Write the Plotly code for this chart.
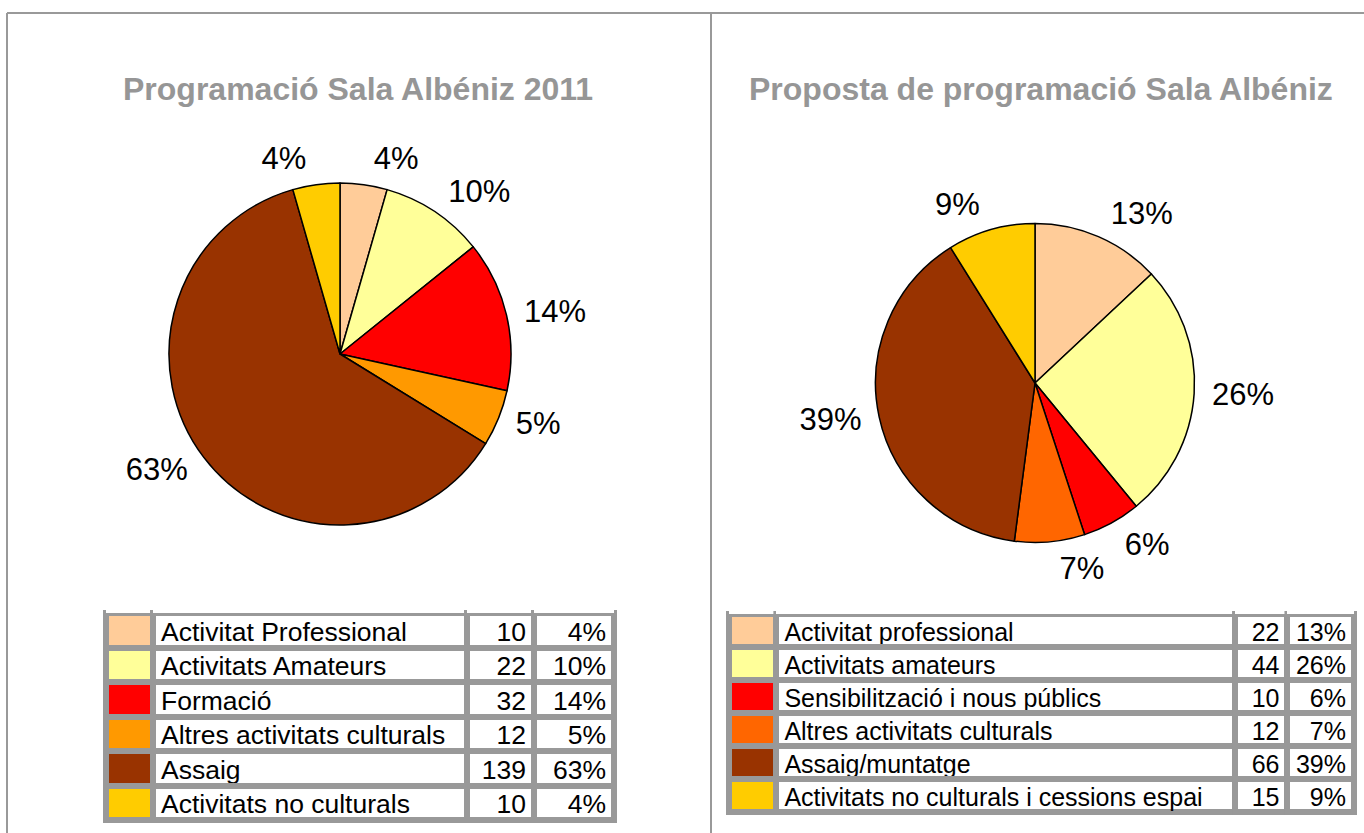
import plotly.graph_objects as go

W, H = 1364, 833

# ---------------- data ----------------
titles = ["Programació Sala Albéniz 2011", "Proposta de programació Sala Albéniz"]

cats_2011 = ["Activitat Professional", "Activitats Amateurs", "Formació",
             "Altres activitats culturals", "Assaig", "Activitats no culturals"]
vals_2011 = [10, 22, 32, 12, 139, 10]
pcts_2011 = ["4%", "10%", "14%", "5%", "63%", "4%"]
cols_2011 = ["#FFCC99", "#FFFF99", "#FF0000", "#FF9900", "#993300", "#FFCC00"]

cats_prop = ["Activitat professional", "Activitats amateurs", "Sensibilització i nous públics",
             "Altres activitats culturals", "Assaig/muntatge", "Activitats no culturals i cessions espai"]
vals_prop = [22, 44, 10, 12, 66, 15]
pcts_prop = ["13%", "26%", "6%", "7%", "39%", "9%"]
cols_prop = ["#FFCC99", "#FFFF99", "#FF0000", "#FF6600", "#993300", "#FFCC00"]

FONT = "Liberation Sans, Arial, sans-serif"
GREY = "#999999"


def px_x(x):
    return x / W


def px_y(y):
    return 1 - y / H


def dom_c(cx, cy, r):
    return dict(x=[px_x(cx - r), px_x(cx + r)], y=[px_y(cy + r), px_y(cy - r)])


def dom(x0, x1, y0, y1):
    return dict(x=[px_x(x0), px_x(x1)], y=[px_y(y1), px_y(y0)])


fig = go.Figure()


def add_pie(cats, vals, pcts, cols, cx, cy, r, label_groups, label_gap):
    # visible pie, no text
    fig.add_trace(go.Pie(
        labels=cats, values=vals, textinfo="none", sort=False,
        direction="clockwise", rotation=0,
        marker=dict(colors=cols, line=dict(color="black", width=1.5)),
        domain=dom_c(cx, cy, r), showlegend=False, hoverinfo="label+value",
    ))
    # transparent, slightly larger pies carrying the percentage labels
    for group in label_groups:
        fig.add_trace(go.Pie(
            labels=cats, values=vals, text=pcts, textinfo="text", sort=False,
            direction="clockwise", rotation=0,
            textposition=["outside" if i in group else "none" for i in range(len(cats))],
            marker=dict(colors=["rgba(0,0,0,0)"] * len(cats), line=dict(width=0)),
            textfont=dict(family=FONT, size=31, color="black"),
            domain=dom_c(cx, cy, r + label_gap), showlegend=False, hoverinfo="skip",
        ))


add_pie(cats_2011, vals_2011, pcts_2011, cols_2011, 340, 354, 171,
        [[0, 2, 4], [1, 3, 5]], 9)
add_pie(cats_prop, vals_prop, pcts_prop, cols_prop, 1035, 383, 159.5,
        [[0, 2, 4], [1, 3, 5]], 9)


# ---------------- tables ----------------
def add_table(cats, vals, pcts, cols, x0, x1, y0, y1, widths, rowh, fsize):
    n = len(cats)
    fig.add_trace(go.Table(
        domain=dom(x0, x1, y0, y1),
        columnwidth=widths,
        header=dict(values=[], height=0, line=dict(width=0, color="white"),
                    fill=dict(color="white")),
        cells=dict(
            values=[[""] * n, cats, [str(v) for v in vals], pcts],
            fill=dict(color=[cols, ["white"] * n, ["white"] * n, ["white"] * n]),
            line=dict(color=GREY, width=6),
            align=["left", "left", "right", "right"],
            font=dict(family=FONT, size=fsize, color="black"),
            height=rowh,
        ),
    ))


add_table(cats_2011, vals_2011, pcts_2011, cols_2011, 106, 614, 597, 833,
          [47, 314, 67, 80], 34.5, 26.5)
add_table(cats_prop, vals_prop, pcts_prop, cols_prop, 729, 1354, 598, 833,
          [47, 455, 52, 66], 33.0, 25)

# ---------------- titles ----------------
for t, cx in zip(titles, [358, 1041]):
    fig.add_annotation(text=t, x=px_x(cx), y=px_y(89), xref="paper", yref="paper",
                       showarrow=False, xanchor="center", yanchor="middle",
                       font=dict(family=FONT, size=32, color="#969696", weight="bold"))

# ---------------- frame ----------------
line = dict(color=GREY, width=2)
fig.add_shape(type="line", xref="paper", yref="paper", x0=px_x(7), x1=1, y0=px_y(13), y1=px_y(13), line=line)
fig.add_shape(type="line", xref="paper", yref="paper", x0=px_x(7), x1=px_x(7), y0=px_y(13), y1=0, line=line)
fig.add_shape(type="line", xref="paper", yref="paper", x0=px_x(711), x1=px_x(711), y0=px_y(13), y1=0, line=line)

fig.update_layout(
    width=W, height=H, margin=dict(l=0, r=0, t=0, b=0),
    paper_bgcolor="white", plot_bgcolor="white",
    font=dict(family=FONT),
)

fig.write_html("out.html", config={"displayModeBar": False},
               post_script="document.body.style.margin='0px';")
